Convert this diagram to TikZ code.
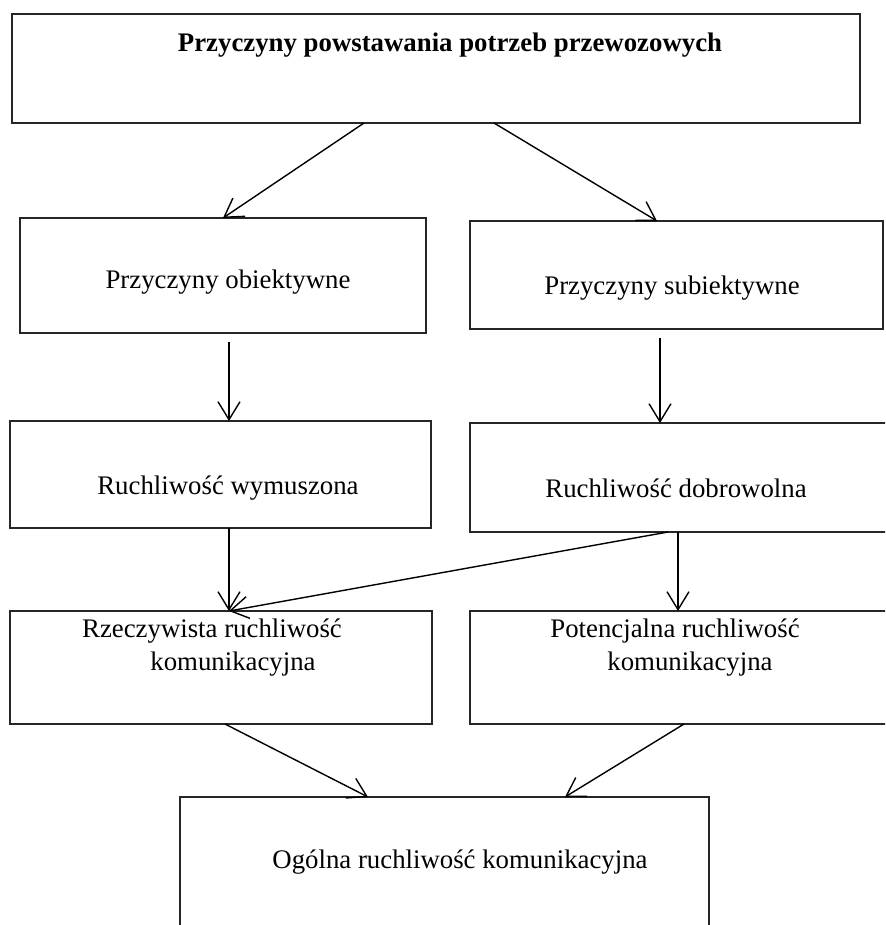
\documentclass[tikz,border=0pt]{standalone}
\usepackage{fontspec}
\setmainfont{Liberation Serif}
\usetikzlibrary{arrows.meta}

\tikzset{
  box/.style={draw=black!85, line width=1.4pt, inner sep=0pt, outer sep=0pt,
    anchor=north west, minimum width=#1},
  txt/.style={inner sep=0pt, font=\fontsize{26.8}{33}\selectfont, align=center},
  link/.style={draw=black, line width=1.4pt,
    -{Straight Barb[length=18pt,width=22pt,line width=1.4pt]}}
}

\begin{document}
\begin{tikzpicture}[x=1pt,y=-1pt]
\clip (0,0) rectangle (885,925);
\fill[white] (0,0) rectangle (885,925);

% boxes (top-left corner, width, height)
\node[box=848pt, minimum height=109pt] (top) at (12,14) {};
\node[box=406pt, minimum height=115pt] (obj) at (20,218) {};
\node[box=413pt, minimum height=108pt] (sub) at (470,221) {};
\node[box=421pt, minimum height=107pt] (wym) at (10,421) {};
\node[box=440pt, minimum height=109pt] (dob) at (470,423) {};
\node[box=422pt, minimum height=113pt] (rze) at (10,611) {};
\node[box=440pt, minimum height=113pt] (pot) at (470,611) {};
\node[box=529pt, minimum height=160pt] (ogo) at (180,797) {};

% labels
\node[txt, font=\fontsize{26.8}{33}\selectfont\bfseries] (ttop) at (450,45) {Przyczyny powstawania potrzeb przewozowych};
\node[txt] (tobj) at (228,282) {Przyczyny obiektywne};
\node[txt] (tsub) at (672,288) {Przyczyny subiektywne};
\node[txt] (twym) at (228,488) {Ruchliwość wymuszona};
\node[txt] (tdob) at (676,488) {Ruchliwość dobrowolna};
\node[txt] (trze) at (233,648) {Rzeczywista ruchliwość\hspace*{42pt}\\komunikacyjna};
\node[txt] (tpot) at (690,648) {Potencjalna ruchliwość\hspace*{30pt}\\komunikacyjna};
\node[txt] (togo) at (460,862) {Ogólna ruchliwość komunikacyjna};

% connectors
\draw[link] ([xshift=352pt]top.south west) -- ([xshift=203pt]obj.north west);
\draw[link] ([xshift=482pt]top.south west) -- ([xshift=187pt]sub.north west);
\draw[link] ([xshift=209pt,yshift=-9pt]obj.south west) -- ([xshift=219pt]wym.north west);
\draw[link] ([xshift=190pt,yshift=-9pt]sub.south west) -- ([xshift=190pt]dob.north west);
\draw[link] ([xshift=219pt]wym.south west) -- ([xshift=219pt]rze.north west);
\draw[link] ([xshift=208pt]dob.south west) -- ([xshift=208pt]pot.north west);
\draw[link] ([xshift=198pt]dob.south west) -- ([xshift=219pt]rze.north west);
\draw[link] ([xshift=215pt]rze.south west) -- ([xshift=188pt]ogo.north west);
\draw[link] ([xshift=214pt]pot.south west) -- ([xshift=385pt]ogo.north west);
\end{tikzpicture}
\end{document}
